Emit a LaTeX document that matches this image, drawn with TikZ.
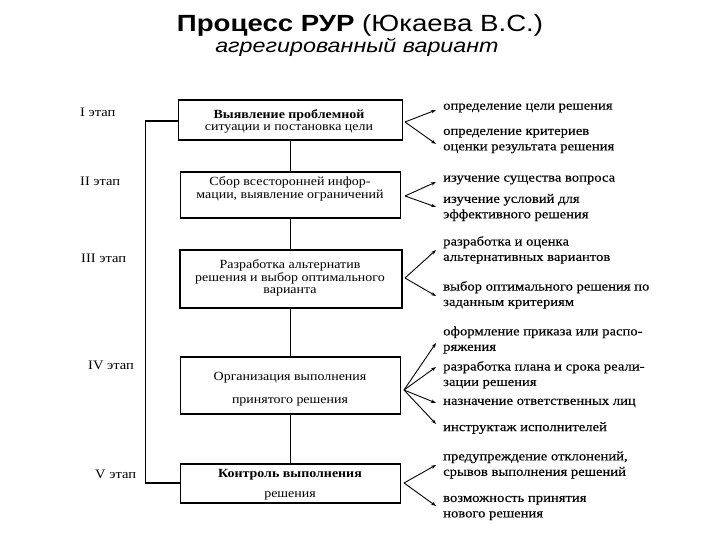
\documentclass[tikz,border=0pt]{standalone}
\usepackage{fontspec}
\setmainfont{Liberation Serif}
\newfontfamily\bodyfont[FakeStretch=1.12]{Liberation Serif}
\newfontfamily\itemfont[FakeStretch=1.13,FakeBold=0.2]{Liberation Serif}
\newfontfamily\titlefont[FakeStretch=1.18]{Liberation Sans}
\newfontfamily\subtitlefont[FakeStretch=1.2]{Liberation Sans}
\usetikzlibrary{arrows.meta}
\begin{document}
\begin{tikzpicture}[x=1bp,y=-1bp,
  stagebox/.style={draw,line width=1.2bp,inner sep=0pt},
  boxtext/.style={font=\bodyfont\fontsize{12.5}{14}\selectfont,anchor=center,inner sep=0pt},
  itemtext/.style={font=\itemfont\fontsize{13}{15.5}\selectfont,anchor=west,align=left,inner sep=0pt},
  stagelabel/.style={font=\bodyfont\fontsize{13}{15}\selectfont,anchor=west,inner sep=0pt},
  link/.style={line width=1.2bp},
  fan/.style={line width=0.9bp,-{Stealth[length=5bp,width=3.5bp]}}]
\useasboundingbox (0,0) rectangle (720,540);
% title
\node[font=\titlefont\fontsize{23.5}{26}\selectfont,inner sep=0pt,anchor=base] (title) at (360,32) {\textbf{Процесс РУР} (Юкаева В.С.)};
\node[font=\subtitlefont\itshape\fontsize{19.5}{22}\selectfont,inner sep=0pt,anchor=base] (subtitle) at (357,53) {агрегированный вариант};
% boxes
\node[stagebox,minimum width=224bp,minimum height=40bp] (b1) at (290.5,120) {};
\node[stagebox,minimum width=220bp,minimum height=46bp] (b2) at (290.5,195) {};
\node[stagebox,minimum width=222bp,minimum height=58bp] (b3) at (291,279) {};
\node[stagebox,minimum width=220bp,minimum height=57bp] (b4) at (290.5,385.5) {};
\node[stagebox,minimum width=220bp,minimum height=39bp] (b5) at (290.5,483.5) {};
% box texts
\node[boxtext] (t1a) at (289,115) {\textbf{Выявление проблемной}};
\node[boxtext] (t1b) at (289,129) {ситуации и постановка цели};
\node[boxtext] (t2a) at (290,182) {Сбор всесторонней инфор-};
\node[boxtext] (t2b) at (290,196) {мации, выявление ограничений};
\node[boxtext] (t3a) at (290,265) {Разработка альтернатив};
\node[boxtext] (t3b) at (290,278.5) {решения и выбор оптимального};
\node[boxtext] (t3c) at (290,292) {варианта};
\node[boxtext] (t4a) at (290,378) {Организация выполнения};
\node[boxtext] (t4b) at (290,402) {принятого решения};
\node[boxtext] (t5a) at (290,475) {\textbf{Контроль выполнения}};
\node[boxtext] (t5b) at (290,496) {решения};
% stage labels
\node[stagelabel] (s1) at (80,112) {I этап};
\node[stagelabel] (s2) at (80,181) {II этап};
\node[stagelabel] (s3) at (81,258) {III этап};
\node[stagelabel] (s4) at (88,365) {IV этап};
\node[stagelabel] (s5) at (95,474) {V этап};
% vertical links
\draw[link] (b1.south) -- (b1.south |- b2.north);
\draw[link] (b2.south) -- (b2.south |- b3.north);
\draw[link] (b2.south |- b3.south) -- (b4.north);
\draw[link] (b4.south) -- (b5.north);
% left bracket
\coordinate (lt) at (145.5,121);
\coordinate (lb) at (145.5,483);
\draw[link] (b1.west |- lt) -- (lt) -- (lb) -- (b5.west |- lb);
% fan origins
\coordinate (o1) at (405,122);
\coordinate (o2) at (405,196);
\coordinate (o3) at (405,278);
\coordinate (o4) at (404,390);
\coordinate (o5) at (404,483);
% items
\node[itemtext] (i1) at (443,108) {определение цели решения};
\node[itemtext] (i2) at (443,141) {определение критериев\\оценки результата решения};
\node[itemtext] (i3) at (443,180) {изучение существа вопроса};
\node[itemtext] (i4) at (443,207.5) {изучение условий для\\эффективного решения};
\node[itemtext] (i5) at (443,250) {разработка и оценка\\альтернативных вариантов};
\node[itemtext] (i6) at (443,295) {выбор оптимального решения по\\заданным критериям};
\node[itemtext] (i7) at (443,340) {оформление приказа или распо-\\ряжения};
\node[itemtext] (i8) at (443,375) {разработка плана и срока реали-\\зации решения};
\node[itemtext] (i9) at (443,403) {назначение ответственных лиц};
\node[itemtext] (i10) at (443,428) {инструктаж исполнителей};
\node[itemtext] (i11) at (443,465) {предупреждение отклонений,\\срывов выполнения решений};
\node[itemtext] (i12) at (443,508) {возможность принятия\\нового решения};
% fans
\draw[fan] (o1) -- (436,110);
\draw[fan] (o1) -- (436,144);
\draw[fan] (o2) -- (436,182);
\draw[fan] (o2) -- (436,207);
\draw[fan] (o3) -- (436,250);
\draw[fan] (o3) -- (436,296);
\draw[fan] (o4) -- (436,343);
\draw[fan] (o4) -- (436,367);
\draw[fan] (o4) -- (436,403);
\draw[fan] (o4) -- (436,424);
\draw[fan] (o5) -- (436,465);
\draw[fan] (o5) -- (436,506);
\end{tikzpicture}
\end{document}
